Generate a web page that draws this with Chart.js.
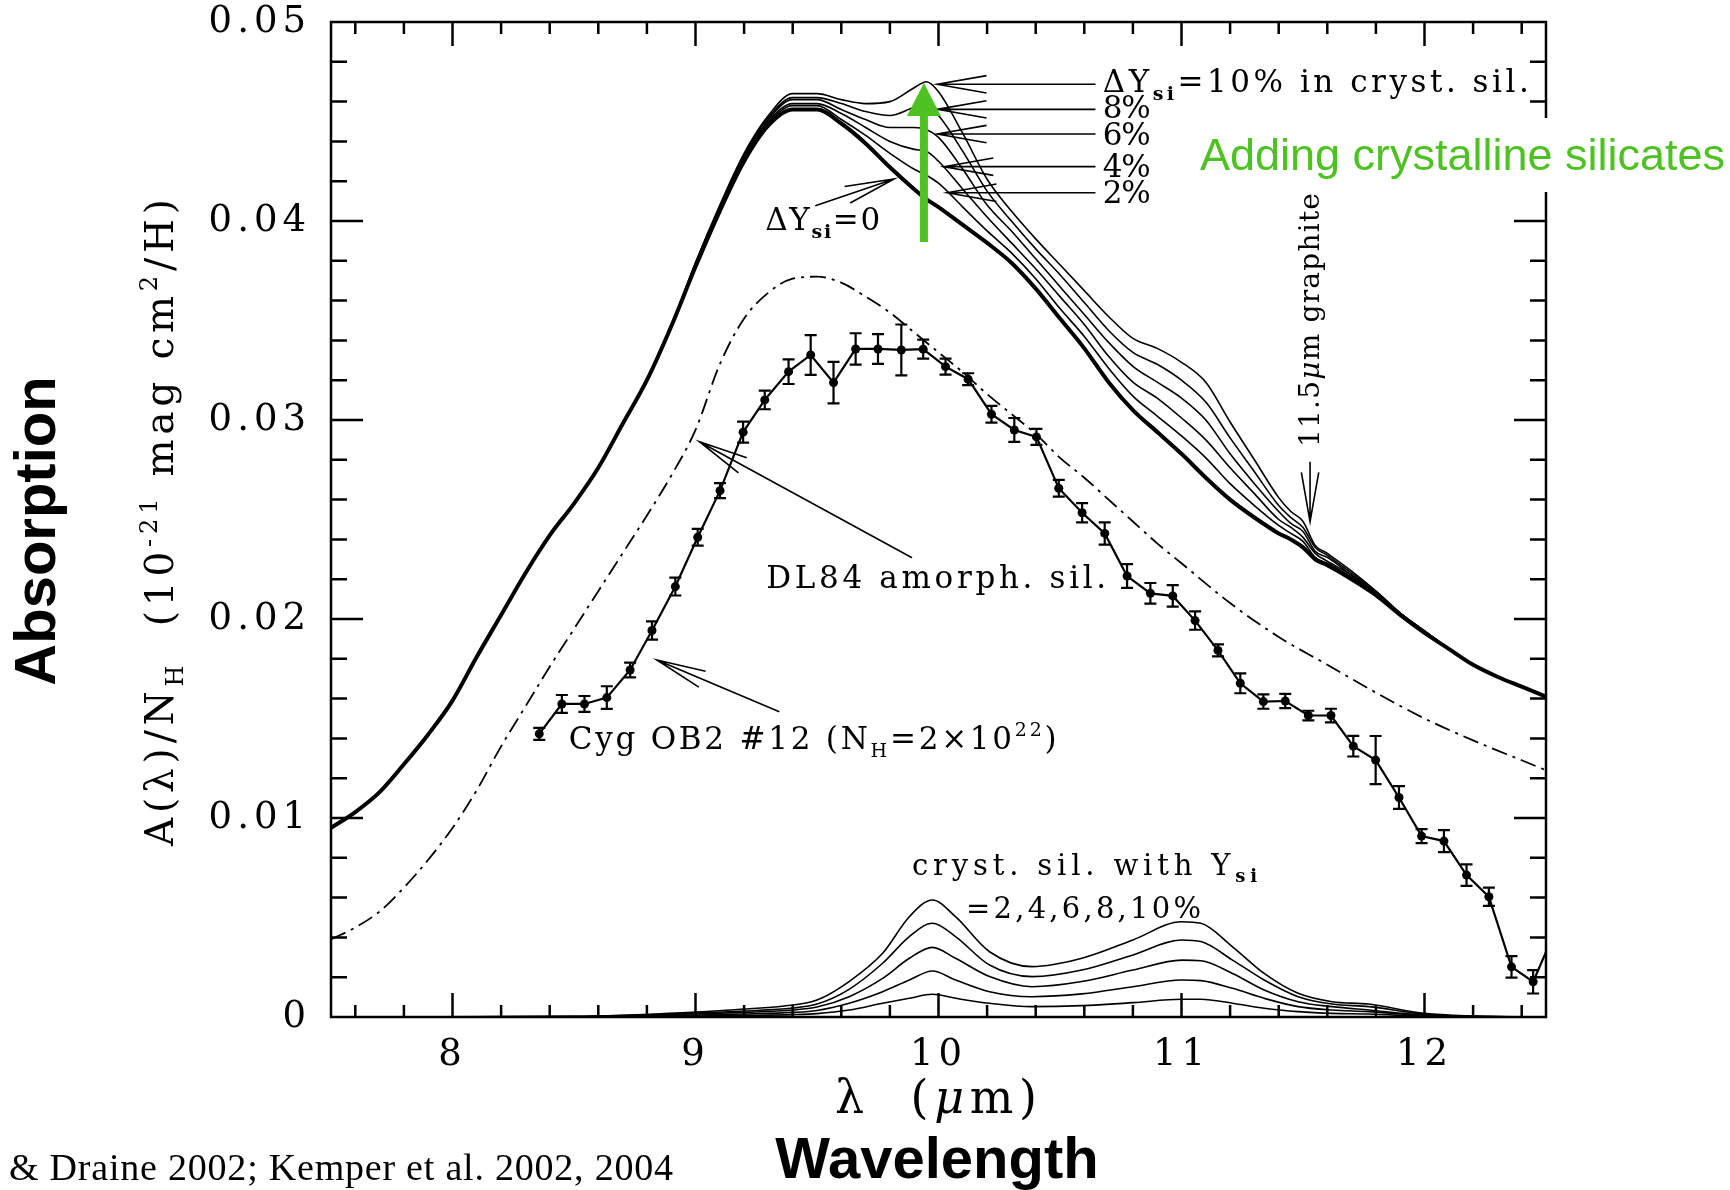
<!DOCTYPE html>
<html>
<head>
<meta charset="utf-8">
<script src="https://cdn.jsdelivr.net/npm/chart.js@4.4.1/dist/chart.umd.min.js"></script>
<style>
  html, body { margin: 0; padding: 0; background: #fff; }
  #wrap { width: 1730px; height: 1190px; }
</style>
</head>
<body>
<div id="wrap"><canvas id="chart" width="1730" height="1190"></canvas></div>
<script>
// model wavelength grid (micron)
const waveModel = [7.5, 7.6, 7.7, 7.8, 7.9, 8.0, 8.1, 8.2, 8.3, 8.4, 8.5, 8.6, 8.7, 8.8, 8.9, 9.0, 9.1, 9.2, 9.3, 9.4,
  9.5, 9.6, 9.7, 9.8, 9.9, 9.95, 10.0, 10.1, 10.2, 10.3, 10.4, 10.5, 10.6, 10.7, 10.8, 10.9, 11.0, 11.1, 11.2, 11.3,
  11.4, 11.45, 11.5, 11.55, 11.6, 11.7, 11.8, 11.9, 12.0, 12.1, 12.2, 12.3, 12.4, 12.5];

// total extinction, dY_si = 0 (thick curve)
const absY0 = [0.0095, 0.0103, 0.0113, 0.0127, 0.0142, 0.0159, 0.0181, 0.0202, 0.0223, 0.0242, 0.0258, 0.0276, 0.0298, 0.0320, 0.0347, 0.0377, 0.0405, 0.0430, 0.0448, 0.0456,
  0.0456, 0.0449, 0.0439, 0.0427, 0.0416, 0.0411, 0.0407, 0.0398, 0.0389, 0.0379, 0.0366, 0.0351, 0.0336, 0.0319, 0.0305, 0.0294, 0.0283, 0.0271, 0.0260, 0.0251,
  0.0243, 0.0240, 0.0236, 0.0230, 0.0227, 0.0220, 0.0212, 0.0202, 0.0193, 0.0185, 0.0177, 0.0171, 0.0166, 0.0161];
const absY2 = [0.0095, 0.0103, 0.0113, 0.0127, 0.0142, 0.0159, 0.0181, 0.0202, 0.0223, 0.0242, 0.0258, 0.0276, 0.0298, 0.0320, 0.0347, 0.0377, 0.0406, 0.0431, 0.0449, 0.0458,
  0.0458, 0.0451, 0.0443, 0.0434, 0.0426, 0.0423, 0.0419, 0.0407, 0.0395, 0.0384, 0.0371, 0.0356, 0.0342, 0.0326, 0.0312, 0.0302, 0.0292, 0.0281, 0.0268, 0.0257,
  0.0247, 0.0243, 0.0239, 0.0231, 0.0228, 0.0221, 0.0212, 0.0202, 0.0193, 0.0185, 0.0177, 0.0171, 0.0166, 0.0161];
const absY4 = [0.0095, 0.0103, 0.0113, 0.0127, 0.0142, 0.0159, 0.0181, 0.0202, 0.0223, 0.0242, 0.0258, 0.0276, 0.0298, 0.0320, 0.0347, 0.0378, 0.0406, 0.0432, 0.0450, 0.0459,
  0.0459, 0.0454, 0.0447, 0.0440, 0.0436, 0.0435, 0.0430, 0.0416, 0.0402, 0.0389, 0.0376, 0.0362, 0.0348, 0.0332, 0.0319, 0.0311, 0.0301, 0.0290, 0.0276, 0.0263,
  0.0250, 0.0246, 0.0241, 0.0233, 0.0229, 0.0222, 0.0213, 0.0202, 0.0193, 0.0185, 0.0177, 0.0171, 0.0166, 0.0161];
const absY6 = [0.0095, 0.0103, 0.0113, 0.0127, 0.0142, 0.0159, 0.0181, 0.0202, 0.0223, 0.0242, 0.0258, 0.0276, 0.0298, 0.0320, 0.0347, 0.0378, 0.0407, 0.0432, 0.0451, 0.0461,
  0.0461, 0.0456, 0.0451, 0.0447, 0.0447, 0.0446, 0.0442, 0.0426, 0.0408, 0.0395, 0.0381, 0.0367, 0.0353, 0.0339, 0.0327, 0.0319, 0.0311, 0.0300, 0.0283, 0.0268,
  0.0254, 0.0248, 0.0244, 0.0234, 0.0231, 0.0222, 0.0213, 0.0203, 0.0194, 0.0185, 0.0177, 0.0171, 0.0166, 0.0161];
const absY8 = [0.0095, 0.0103, 0.0113, 0.0127, 0.0142, 0.0159, 0.0181, 0.0202, 0.0223, 0.0242, 0.0258, 0.0276, 0.0298, 0.0320, 0.0347, 0.0379, 0.0407, 0.0433, 0.0452, 0.0462,
  0.0462, 0.0459, 0.0455, 0.0453, 0.0457, 0.0458, 0.0453, 0.0435, 0.0415, 0.0400, 0.0386, 0.0373, 0.0359, 0.0345, 0.0334, 0.0328, 0.0320, 0.0309, 0.0291, 0.0274,
  0.0257, 0.0251, 0.0246, 0.0236, 0.0232, 0.0223, 0.0214, 0.0203, 0.0194, 0.0185, 0.0177, 0.0171, 0.0166, 0.0161];
const absY10 = [0.0095, 0.0103, 0.0113, 0.0127, 0.0142, 0.0159, 0.0181, 0.0202, 0.0223, 0.0242, 0.0258, 0.0276, 0.0298, 0.0320, 0.0347, 0.0379, 0.0408, 0.0434, 0.0453, 0.0464,
  0.0464, 0.0461, 0.0459, 0.0460, 0.0467, 0.0470, 0.0465, 0.0444, 0.0421, 0.0405, 0.0391, 0.0378, 0.0365, 0.0352, 0.0341, 0.0336, 0.0329, 0.0319, 0.0299, 0.0280,
  0.0261, 0.0254, 0.0249, 0.0237, 0.0233, 0.0224, 0.0214, 0.0203, 0.0194, 0.0185, 0.0177, 0.0171, 0.0166, 0.0161];

// DL84 amorphous silicate (dash-dot)
const waveAmorph = [7.5, 7.6, 7.7, 7.8, 7.9, 8.0, 8.1, 8.2, 8.3, 8.4, 8.5, 8.6, 8.7, 8.8, 8.9, 9.0, 9.1, 9.2, 9.3, 9.4,
  9.5, 9.6, 9.7, 9.8, 9.9, 10.0, 10.1, 10.2, 10.3, 10.4, 10.5, 10.6, 10.7, 10.8, 10.9, 11.0, 11.2, 11.4, 11.6, 11.8,
  12.0, 12.2, 12.4, 12.5];
const absAmorph = [0.0039, 0.0045, 0.0053, 0.0065, 0.0079, 0.0095, 0.0114, 0.0136, 0.0156, 0.0176, 0.0195, 0.0214, 0.0233, 0.0252, 0.0272, 0.0295, 0.0328, 0.0351, 0.0364, 0.0371,
  0.0372, 0.0369, 0.0362, 0.0354, 0.0344, 0.0334, 0.0324, 0.0313, 0.0303, 0.0293, 0.0281, 0.0271, 0.0260, 0.0249, 0.0238, 0.0228, 0.0208, 0.0191, 0.0177, 0.0163,
  0.0150, 0.0139, 0.0129, 0.0124];

// crystalline silicate alone, Y_si = 2..10%
const waveCryst = [7.5, 8.5, 9.0, 9.2, 9.4, 9.5, 9.632, 9.77, 9.88, 9.975, 10.07, 10.21, 10.385, 10.59, 10.8, 11.0, 11.08, 11.21, 11.34, 11.48,
  11.62, 11.77, 12.0, 12.2, 12.5];
const cryst2 = [0, 0, 0.00005, 0.00008, 0.00012, 0.00017, 0.00035, 0.00069, 0.00094, 0.00114, 0.00094, 0.00069, 0.00052, 0.00057, 0.00072, 0.00089, 0.00089, 0.00069, 0.00044, 0.00027,
  0.00018, 0.00015, 0.00004, 0.00001, 0];
const cryst4 = [0, 0.00001, 0.0001, 0.00015, 0.00023, 0.00033, 0.00069, 0.00127, 0.00186, 0.00231, 0.00186, 0.00127, 0.00102, 0.00116, 0.00152, 0.00186, 0.00183, 0.00144, 0.00094, 0.00052,
  0.00035, 0.00027, 0.00007, 0.00002, 0];
const cryst6 = [0, 0.00002, 0.00015, 0.00023, 0.00035, 0.0005, 0.00102, 0.00194, 0.00295, 0.0035, 0.00295, 0.00203, 0.00152, 0.00178, 0.00236, 0.00286, 0.00283, 0.00219, 0.00136, 0.00077,
  0.00052, 0.00035, 0.0001, 0.00003, 0];
const cryst8 = [0, 0.00002, 0.0002, 0.0003, 0.00045, 0.00065, 0.00139, 0.0027, 0.00404, 0.00471, 0.00404, 0.00261, 0.00203, 0.00236, 0.00312, 0.00387, 0.00379, 0.00286, 0.00186, 0.00102,
  0.00065, 0.00052, 0.00014, 0.00004, 0];
const cryst10 = [0, 0.00003, 0.00025, 0.0004, 0.0006, 0.00085, 0.00178, 0.0032, 0.00504, 0.00588, 0.00504, 0.00328, 0.00253, 0.00295, 0.00387, 0.00479, 0.00471, 0.00353, 0.00219, 0.00119,
  0.00077, 0.00065, 0.00018, 0.00005, 0];

// Cyg OB2 #12 observed profile with 1-sigma errors
const cygWave = [8.357, 8.450, 8.543, 8.635, 8.731, 8.821, 8.917, 9.009, 9.101, 9.196, 9.285, 9.383, 9.474, 9.568, 9.659, 9.751, 9.847, 9.937, 10.029, 10.122,
  10.218, 10.312, 10.403, 10.495, 10.591, 10.684, 10.776, 10.872, 10.964, 11.056, 11.150, 11.242, 11.337, 11.427, 11.522, 11.615, 11.707, 11.799, 11.895, 11.988,
  12.080, 12.173, 12.265, 12.358, 12.447, 12.540];
const cygAbs = [0.01423, 0.01573, 0.01573, 0.01605, 0.01744, 0.01942, 0.02163, 0.02411, 0.02645, 0.02939, 0.03101, 0.03243, 0.03327, 0.03188, 0.03357, 0.03357, 0.03352, 0.03356, 0.03268, 0.03205,
  0.03029, 0.02950, 0.02915, 0.02657, 0.02534, 0.02430, 0.02216, 0.02129, 0.02116, 0.01992, 0.01842, 0.01677, 0.01585, 0.01588, 0.01515, 0.01515, 0.01361, 0.01291, 0.01103, 0.00909,
  0.00884, 0.00713, 0.00604, 0.00252, 0.00177, 0.0044];
const cygErr = [0.0003, 0.00045, 0.0004, 0.00057, 0.00037, 0.00046, 0.00045, 0.00042, 0.00038, 0.00053, 0.00047, 0.00062, 0.001, 0.00104, 0.00079, 0.00075, 0.00128, 0.00048, 0.0004, 0.0003,
  0.00042, 0.0006, 0.0004, 0.00042, 0.00048, 0.00056, 0.0006, 0.00052, 0.00054, 0.00046, 0.0003, 0.0005, 0.00036, 0.00036, 0.00024, 0.00034, 0.00052, 0.00121, 0.00057, 0.00035,
  0.00055, 0.00054, 0.00046, 0.00054, 0.00059, 0];

const xTicks = [8, 9, 10, 11, 12];
const yTicks = [0, 0.01, 0.02, 0.03, 0.04, 0.05];
const yTickLabels = ['0', '0.01', '0.02', '0.03', '0.04', '0.05'];

const SERIF = '"DejaVu Serif", "Liberation Serif", serif';
const TIMES = '"Liberation Serif", "Times New Roman", serif';
const SANS = '"Liberation Sans", Arial, sans-serif';
const GREEN = '#4ec222';

const toPts = (xs, ys) => xs.map((x, i) => ({ x, y: ys[i] }));

const curve = (xs, ys, width, dash) => ({
    data: toPts(xs, ys),
    borderColor: '#000',
    borderWidth: width,
    borderDash: dash || [],
    pointRadius: 0,
    fill: false,
    cubicInterpolationMode: 'monotone'
});

function fontOf(p, size, fam) {
    const s = (p.sub || p.sup) ? Math.round(size * 0.62) : size;
    return (p.it ? 'italic ' : '') + (p.bold ? 'bold ' : '') + s + 'px ' + fam;
}

// text made of runs (normal / sub / sup), stretched with letter spacing to a target width
function drawRich(ctx, parts, x, y, size, fam, fitW) {
    ctx.letterSpacing = '0px';
    ctx.textAlign = 'left';
    ctx.textBaseline = 'alphabetic';
    let nat = 0, n = 0;
    const widths = parts.map(p => {
        ctx.font = fontOf(p, size, fam);
        const w = ctx.measureText(p.t).width;
        nat += w;
        n += [...p.t].length;
        return w;
    });
    const ls = fitW ? (fitW - nat) / Math.max(1, n - 1) : 0;
    let cx = x;
    parts.forEach((p, i) => {
        ctx.font = fontOf(p, size, fam);
        ctx.letterSpacing = ls + 'px';
        const dy = p.sub ? size * 0.25 : p.sup ? -size * 0.42 : 0;
        ctx.fillText(p.t, cx, y + dy);
        cx += widths[i] + ls * [...p.t].length;
    });
    ctx.letterSpacing = '0px';
}

function arrow(ctx, x1, y1, x2, y2) {
    const len = 50, ang = 10 * Math.PI / 180;
    const a = Math.atan2(y1 - y2, x1 - x2);
    ctx.beginPath();
    ctx.moveTo(x1, y1);
    ctx.lineTo(x2, y2);
    ctx.moveTo(x2 + len * Math.cos(a + ang), y2 + len * Math.sin(a + ang));
    ctx.lineTo(x2, y2);
    ctx.lineTo(x2 + len * Math.cos(a - ang), y2 + len * Math.sin(a - ang));
    ctx.stroke();
}

// annotation arrows: [tail, tip] in data coordinates
const arrows = [
    [[10.646, 0.04687], [9.995, 0.04687]],
    [[10.646, 0.04561], [9.995, 0.04561]],
    [[10.646, 0.04437], [9.995, 0.04437]],
    [[10.646, 0.04273], [10.023, 0.04273]],
    [[10.646, 0.04142], [10.036, 0.04142]],
    [[9.493, 0.04077], [9.817, 0.04211]],
    [[9.891, 0.02308], [9.016, 0.02891]],
    [[9.345, 0.01534], [8.841, 0.01794]],
    [[11.529, 0.0279], [11.529, 0.02489]]
];

const labels = [
    { parts: [{ t: 'ΔY' }, { t: 'si', sub: 1, bold: 1 }, { t: '=10% in cryst. sil.' }], at: [10.676, 0.04648], size: 31, w: 426 },
    { parts: [{ t: '8%' }], at: [10.676, 0.04518], size: 31, w: 48 },
    { parts: [{ t: '6%' }], at: [10.676, 0.04382], size: 31, w: 48 },
    { parts: [{ t: '4%' }], at: [10.676, 0.04221], size: 31, w: 48 },
    { parts: [{ t: '2%' }], at: [10.676, 0.04090], size: 31, w: 48 },
    { parts: [{ t: 'ΔY' }, { t: 'si', sub: 1, bold: 1 }, { t: '=0' }], at: [9.287, 0.03955], size: 31, w: 115 },
    { parts: [{ t: 'DL84 amorph. sil.' }], at: [9.291, 0.02156], size: 31, w: 340 },
    { parts: [{ t: 'Cyg OB2 #12 (N' }, { t: 'H', sub: 1 }, { t: '=2×10' }, { t: '22', sup: 1 }, { t: ')' }], at: [8.478, 0.01347], size: 31, w: 488 },
    { parts: [{ t: 'cryst. sil. with Y' }, { t: 'si', sub: 1, bold: 1 }], at: [9.891, 0.00714], size: 29, w: 345 },
    { parts: [{ t: '=2,4,6,8,10%' }], at: [10.113, 0.00497], size: 29, w: 235 }
];

const decor = {
    id: 'decor',
    beforeDraw(chart) {
        const ctx = chart.ctx;
        ctx.save();
        ctx.fillStyle = '#fff';
        ctx.fillRect(0, 0, chart.width, chart.height);
        ctx.restore();
        ctx.letterSpacing = '5px';   // wide tick labels
    },
    beforeDatasetsDraw(chart) {
        chart.ctx.letterSpacing = '0px';
    },
    afterDraw(chart) {
        const ctx = chart.ctx;
        const xs = chart.scales.x, ys = chart.scales.y;
        const { left, right, top, bottom } = chart.chartArea;
        const px = v => xs.getPixelForValue(v);
        const py = v => ys.getPixelForValue(v);

        ctx.save();
        ctx.strokeStyle = '#000';
        ctx.fillStyle = '#000';
        ctx.lineCap = 'butt';

        // error bars
        ctx.lineWidth = 2.2;
        ctx.beginPath();
        cygWave.forEach((w, i) => {
            if (w > 12.5 || !cygErr[i]) return;
            const x = px(w), y1 = py(cygAbs[i] - cygErr[i]), y2 = py(cygAbs[i] + cygErr[i]);
            ctx.moveTo(x, y1); ctx.lineTo(x, y2);
            ctx.moveTo(x - 6, y1); ctx.lineTo(x + 6, y1);
            ctx.moveTo(x - 6, y2); ctx.lineTo(x + 6, y2);
        });
        ctx.stroke();

        // frame and inward ticks on all sides
        ctx.lineWidth = 2.5;
        ctx.strokeRect(left, top, right - left, bottom - top);
        ctx.beginPath();
        for (let i = 38; i <= 62; i++) {
            const x = px(i / 5), l = i % 5 === 0 ? 24 : 12;
            ctx.moveTo(x, bottom); ctx.lineTo(x, bottom - l);
            ctx.moveTo(x, top); ctx.lineTo(x, top + l);
        }
        for (let i = 1; i <= 24; i++) {
            const y = py(i * 0.002), l = i % 5 === 0 ? 32 : 16;
            ctx.moveTo(left, y); ctx.lineTo(left + l, y);
            ctx.moveTo(right, y); ctx.lineTo(right - l, y);
        }
        ctx.stroke();

        // annotation arrows and labels
        ctx.lineWidth = 1.6;
        arrows.forEach(([a, b]) => arrow(ctx, px(a[0]), py(a[1]), px(b[0]), py(b[1])));
        labels.forEach(l => drawRich(ctx, l.parts, px(l.at[0]), py(l.at[1]), l.size, SERIF, l.w));

        ctx.save();
        ctx.translate(px(11.567), py(0.02864));
        ctx.rotate(-Math.PI / 2);
        drawRich(ctx, [{ t: '11.5' }, { t: 'μ', it: 1 }, { t: 'm graphite' }], 0, 0, 28, SERIF, 254);
        ctx.restore();

        // axis titles
        drawRich(ctx, [{ t: 'λ  (' }, { t: 'μ', it: 1 }, { t: 'm)' }], 835, 1113, 46, SERIF, 202);
        ctx.save();
        ctx.translate(173, 846);
        ctx.rotate(-Math.PI / 2);
        drawRich(ctx, [{ t: 'A(λ)/N' }, { t: 'H', sub: 1 }, { t: '  (10' }, { t: '-21', sup: 1 },
            { t: ' mag cm' }, { t: '2', sup: 1 }, { t: '/H)' }], 0, 0, 39, SERIF, 647);
        ctx.restore();

        ctx.font = 'bold 58px ' + SANS;
        ctx.textAlign = 'center';
        ctx.fillText('Wavelength', 937, 1178);
        ctx.save();
        ctx.translate(55, 531);
        ctx.rotate(-Math.PI / 2);
        ctx.fillText('Absorption', 0, 0);
        ctx.restore();

        drawRich(ctx, [{ t: '& Draine 2002; Kemper et al. 2002, 2004' }], 9, 1180, 38, TIMES, 664);

        // green overlay
        ctx.fillStyle = '#fff';
        ctx.fillRect(1190, 118, 540, 74);
        ctx.fillStyle = GREEN;
        drawRich(ctx, [{ t: 'Adding crystalline silicates' }], 1200, 170, 45, SANS, 525);
        const gx = px(9.94);
        ctx.fillRect(gx - 4, 115, 8, 127);
        ctx.beginPath();
        ctx.moveTo(gx, 83);
        ctx.lineTo(gx - 17, 116);
        ctx.lineTo(gx + 17, 116);
        ctx.closePath();
        ctx.fill();
        ctx.restore();
    }
};

new Chart(document.getElementById('chart'), {
    type: 'line',
    data: {
        datasets: [
            {
                data: toPts(cygWave, cygAbs),
                borderColor: '#000',
                borderWidth: 2.2,
                pointRadius: 4.5,
                pointBackgroundColor: '#000',
                pointBorderWidth: 0,
                tension: 0,
                fill: false
            },
            curve(waveModel, absY0, 4),
            curve(waveModel, absY2, 1.6),
            curve(waveModel, absY4, 1.6),
            curve(waveModel, absY6, 1.6),
            curve(waveModel, absY8, 1.6),
            curve(waveModel, absY10, 1.6),
            curve(waveAmorph, absAmorph, 1.8, [16, 6, 3, 6]),
            curve(waveCryst, cryst2, 1.6),
            curve(waveCryst, cryst4, 1.6),
            curve(waveCryst, cryst6, 1.6),
            curve(waveCryst, cryst8, 1.6),
            curve(waveCryst, cryst10, 1.6)
        ]
    },
    options: {
        responsive: false,
        devicePixelRatio: 1,
        animation: false,
        layout: { padding: { left: 0, right: 184, top: 22, bottom: 0 } },
        plugins: { legend: { display: false }, tooltip: { enabled: false } },
        scales: {
            x: {
                type: 'linear',
                min: 7.5,
                max: 12.5,
                grid: { display: false, drawTicks: false },
                border: { display: false },
                afterBuildTicks: s => { s.ticks = xTicks.map(v => ({ value: v })); },
                ticks: {
                    font: { family: '"DejaVu Serif"', size: 37 },
                    color: '#000',
                    padding: 16,
                    maxRotation: 0,
                    autoSkip: false,
                    callback: v => String(v)
                },
                afterFit: s => { s.height = 173; s.paddingLeft = 0; s.paddingRight = 0; }
            },
            y: {
                min: 0,
                max: 0.05,
                grid: { display: false, drawTicks: false },
                border: { display: false },
                afterBuildTicks: s => { s.ticks = yTicks.map(v => ({ value: v })); },
                ticks: {
                    font: { family: '"DejaVu Serif"', size: 37 },
                    color: '#000',
                    padding: 20,
                    autoSkip: false,
                    callback: (v, i) => yTickLabels[i]
                },
                afterFit: s => { s.width = 331; s.paddingTop = 0; s.paddingBottom = 0; }
            }
        }
    },
    plugins: [decor]
});
</script>
</body>
</html>
